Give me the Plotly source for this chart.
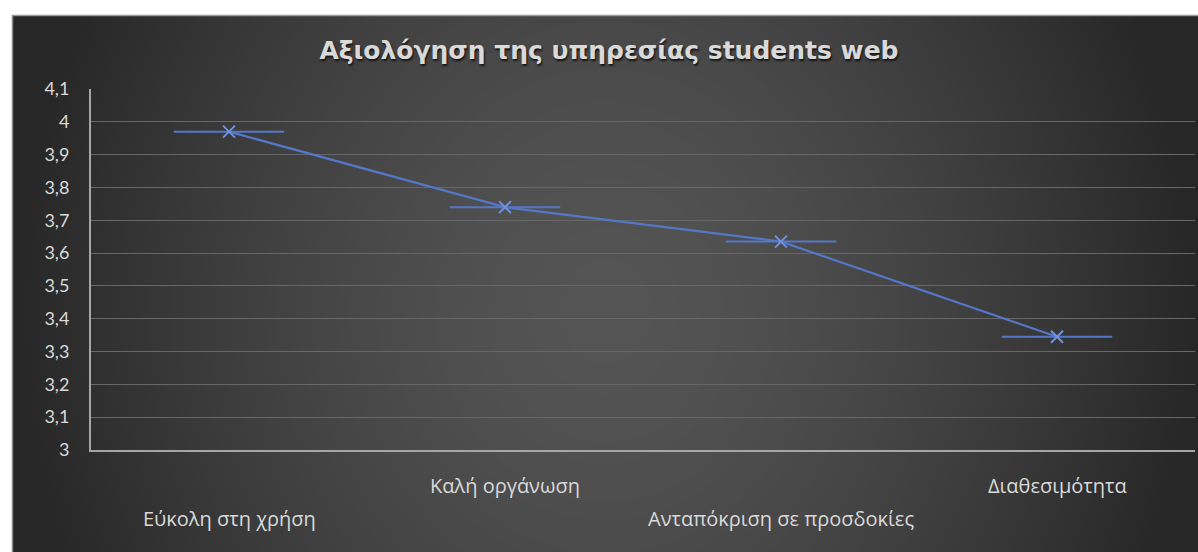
import base64
import struct
import zlib

import numpy as np
import plotly.graph_objects as go

# ---- data -------------------------------------------------------------
categories = ["Εύκολη στη χρήση", "Καλή οργάνωση", "Ανταπόκριση σε προσδοκίες", "Διαθεσιμότητα"]
ratings = [3.97, 3.74, 3.635, 3.345]
bar_halfwidth = [0.2, 0.2, 0.2, 0.2]
y_tickvals = [3.0, 3.1, 3.2, 3.3, 3.4, 3.5, 3.6, 3.7, 3.8, 3.9, 4.0, 4.1]
y_ticktext = ["3", "3,1", "3,2", "3,3", "3,4", "3,5", "3,6", "3,7", "3,8", "3,9", "4", "4,1"]
title_text = "Αξιολόγηση της υπηρεσίας students web"

# ---- geometry (pixels) --------------------------------------------------
W, H = 1198, 552
PL, PR, PT, PB = 91, 1195, 89, 450          # plot area edges
BOX_L, BOX_T = 12, 15                        # chart box top-left corner


def px2x(px):
    return (px - PL) / (PR - PL)


def py2y(py):
    return (PB - py) / (PB - PT)


# ---- radial background (grayscale PNG built by hand) --------------------
def png_gray(arr):
    h, w = arr.shape
    raw = b"".join(b"\x00" + arr[i].tobytes() for i in range(h))

    def chunk(tag, data):
        c = struct.pack(">I", len(data)) + tag + data
        return c + struct.pack(">I", zlib.crc32(tag + data) & 0xFFFFFFFF)

    ihdr = struct.pack(">IIBBBBB", w, h, 8, 0, 0, 0, 0)
    return (b"\x89PNG\r\n\x1a\n" + chunk(b"IHDR", ihdr)
            + chunk(b"IDAT", zlib.compress(raw, 9)) + chunk(b"IEND", b""))


bw, bh = W - BOX_L, H - BOX_T
gx, gy = np.meshgrid(np.arange(bw, dtype=float), np.arange(bh, dtype=float))
cx, cy = bw * 0.5, bh * 0.55
r = np.sqrt(((gx - cx) / (bw * 0.5)) ** 2 + ((gy - cy) / (bh * 1.25)) ** 2)
val = 0x55 - (0x55 - 0x27) * np.clip(r, 0, 1) ** 1.5
bg = png_gray(np.clip(val, 0, 255).astype(np.uint8))
bg_uri = "data:image/png;base64," + base64.b64encode(bg).decode()

# ---- figure -------------------------------------------------------------
blue = "#5577c8"
xs = list(range(len(categories)))

fig = go.Figure()
fig.add_trace(go.Scatter(
    x=xs, y=ratings, mode="lines+markers",
    line=dict(color=blue, width=2.2),
    marker=dict(symbol="x-thin", size=12, line=dict(color="#6f93e0", width=2), color="#6f93e0"),
    error_x=dict(type="data", array=bar_halfwidth, symmetric=True, width=0,
                 thickness=2, color=blue),
    hoverinfo="x+y", showlegend=False,
))

label_rows = [-0.191, -0.097, -0.191, -0.097]
annotations = [
    dict(x=xs[i], y=label_rows[i], xref="x", yref="paper", text=categories[i],
         showarrow=False, xanchor="center", yanchor="middle",
         font=dict(family="Open Sans", size=20, color="#d9d9d9"))
    for i in range(len(categories))
]

shapes = [
    # light border along the top and left edge of the chart box
    dict(type="line", xref="paper", yref="paper", x0=px2x(BOX_L), x1=px2x(W),
         y0=py2y(BOX_T + 0.5), y1=py2y(BOX_T + 0.5), line=dict(color="#9a9a9a", width=1.5)),
    dict(type="line", xref="paper", yref="paper", x0=px2x(BOX_L + 0.5), x1=px2x(BOX_L + 0.5),
         y0=py2y(BOX_T), y1=py2y(H), line=dict(color="#8a8a8a", width=1.5)),
]

fig.update_layout(
    width=W, height=H,
    margin=dict(l=PL, r=W - PR, t=PT, b=H - PB),
    paper_bgcolor="white",
    plot_bgcolor="rgba(0,0,0,0)",
    separators=", ",
    title=dict(text=title_text, x=609 / W, xanchor="center", y=1 - 50 / H, yanchor="middle",
               font=dict(family="DejaVu Sans", size=25, weight="bold", color="#d9d9d9",
                         shadow="1px 2px 2px #151515")),
    xaxis=dict(range=[-0.5, 3.5], showticklabels=False, showgrid=False, zeroline=False,
               showline=True, linecolor="#a6a6a6", linewidth=2, fixedrange=True),
    yaxis=dict(range=[3, 4.1], tickvals=y_tickvals, ticktext=y_ticktext,
               showgrid=True, gridcolor="#676767", gridwidth=1, zeroline=False,
               showline=True, linecolor="#a6a6a6", linewidth=2,
               ticks="", ticklabelstandoff=16,
               tickfont=dict(family="Lato", size=18, color="#d9d9d9"), fixedrange=True),
    images=[dict(source=bg_uri, xref="paper", yref="paper",
                 x=px2x(BOX_L), y=py2y(BOX_T), sizex=bw / (PR - PL), sizey=bh / (PB - PT),
                 xanchor="left", yanchor="top", sizing="stretch", layer="below")],
    annotations=annotations,
    shapes=shapes,
)

fig.write_html("out.html", config={"displayModeBar": False})
